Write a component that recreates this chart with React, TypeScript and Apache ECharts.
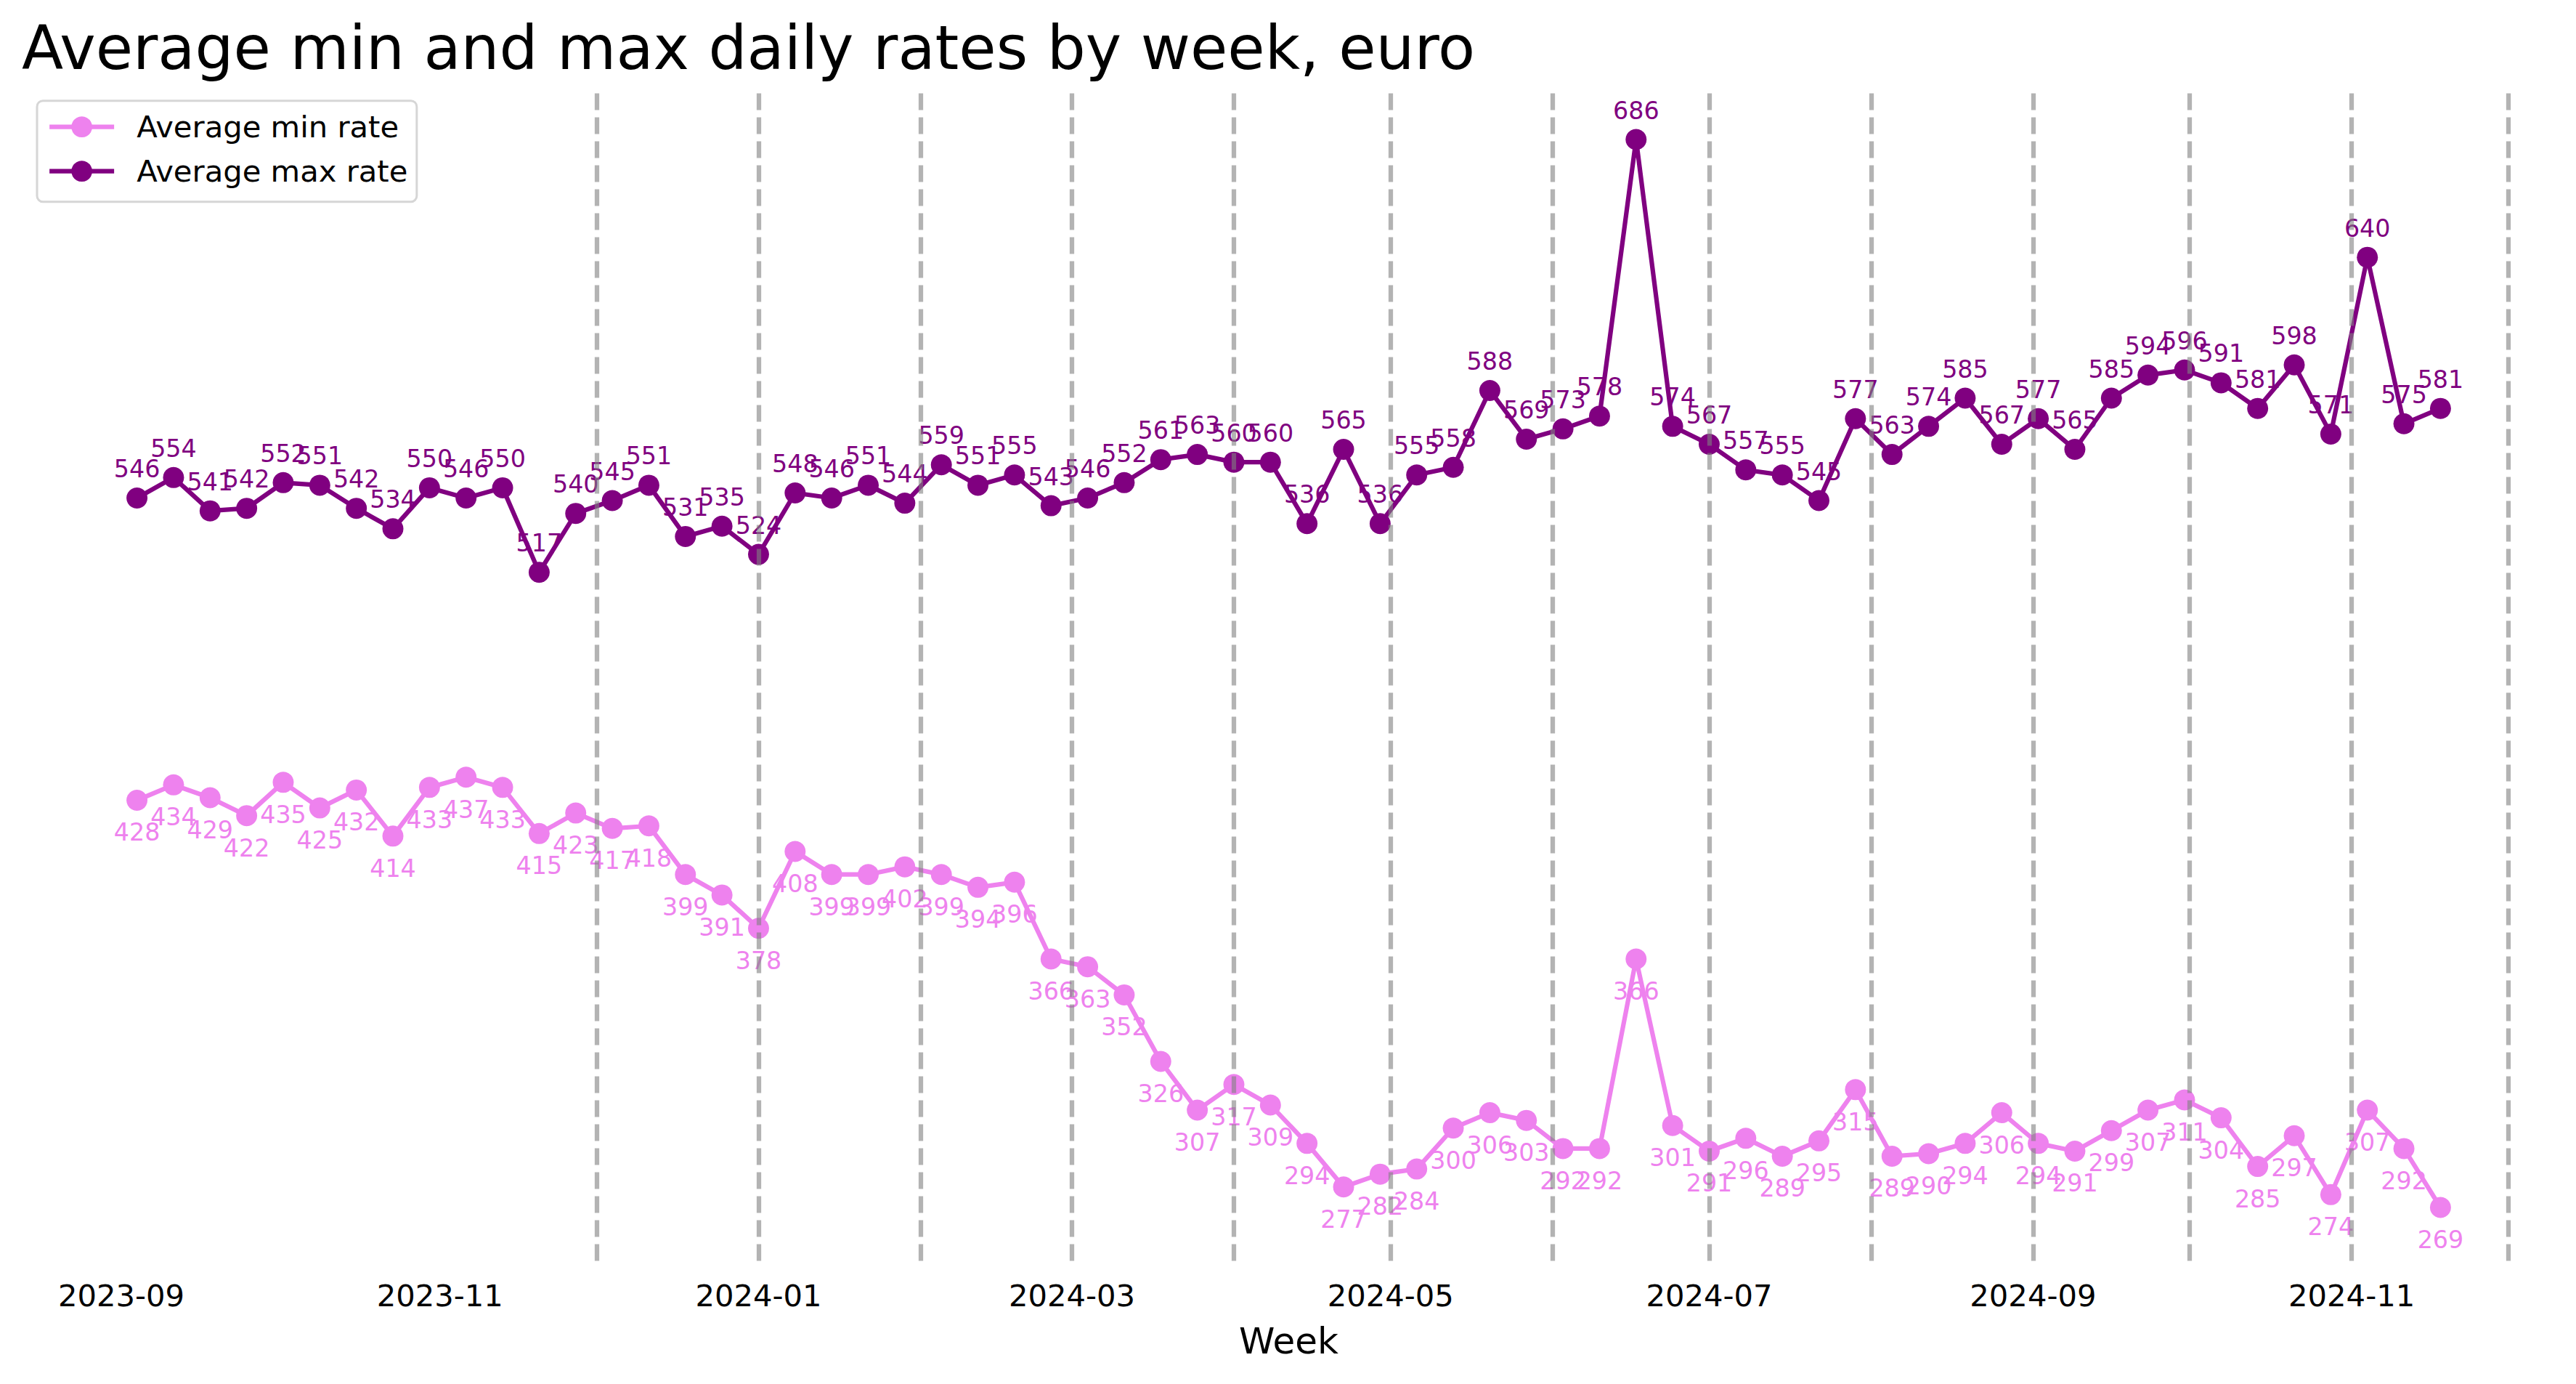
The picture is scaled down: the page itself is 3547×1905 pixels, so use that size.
import React, { useEffect, useRef } from "react";
import * as echarts from "echarts";

const weeks = [
  "2023-09-04", "2023-09-11", "2023-09-18", "2023-09-25", "2023-10-02", "2023-10-09", "2023-10-16", "2023-10-23",
  "2023-10-30", "2023-11-06", "2023-11-13", "2023-11-20", "2023-11-27", "2023-12-04", "2023-12-11", "2023-12-18",
  "2023-12-25", "2024-01-01", "2024-01-08", "2024-01-15", "2024-01-22", "2024-01-29", "2024-02-05", "2024-02-12",
  "2024-02-19", "2024-02-26", "2024-03-04", "2024-03-11", "2024-03-18", "2024-03-25", "2024-04-01", "2024-04-08",
  "2024-04-15", "2024-04-22", "2024-04-29", "2024-05-06", "2024-05-13", "2024-05-20", "2024-05-27", "2024-06-03",
  "2024-06-10", "2024-06-17", "2024-06-24", "2024-07-01", "2024-07-08", "2024-07-15", "2024-07-22", "2024-07-29",
  "2024-08-05", "2024-08-12", "2024-08-19", "2024-08-26", "2024-09-02", "2024-09-09", "2024-09-16", "2024-09-23",
  "2024-09-30", "2024-10-07", "2024-10-14", "2024-10-21", "2024-10-28", "2024-11-04", "2024-11-11", "2024-11-18",
];

const minRates = [
  428, 434, 429, 422, 435, 425, 432, 414, 433, 437, 433, 415, 423, 417, 418, 399,
  391, 378, 408, 399, 399, 402, 399, 394, 396, 366, 363, 352, 326, 307, 317, 309,
  294, 277, 282, 284, 300, 306, 303, 292, 292, 366, 301, 291, 296, 289, 295, 315,
  289, 290, 294, 306, 294, 291, 299, 307, 311, 304, 285, 297, 274, 307, 292, 269,
];

const maxRates = [
  546, 554, 541, 542, 552, 551, 542, 534, 550, 546, 550, 517, 540, 545, 551, 531,
  535, 524, 548, 546, 551, 544, 559, 551, 555, 543, 546, 552, 561, 563, 560, 560,
  536, 565, 536, 555, 558, 588, 569, 573, 578, 686, 574, 567, 557, 555, 545, 577,
  563, 574, 585, 567, 577, 565, 585, 594, 596, 591, 581, 598, 571, 640, 575, 581,
];

const monthLines = [
  "2023-12-01", "2024-01-01", "2024-02-01", "2024-03-01", "2024-04-01", "2024-05-01", "2024-06-01",
  "2024-07-01", "2024-08-01", "2024-09-01", "2024-10-01", "2024-11-01", "2024-12-01",
];

const tickLabels = ["2023-09", "2023-11", "2024-01", "2024-03", "2024-05", "2024-07", "2024-09", "2024-11"];

const seriesNames = ["Average min rate", "Average max rate"];
const titleText = "Average min and max daily rates by week, euro";
const xAxisName = "Week";

const ts = (s: string) => {
  const p = s.split("-").map(Number);
  return Date.UTC(p[0], p[1] - 1, p[2] || 1);
};

const FONT = "DejaVu Sans";
const MIN_COLOR = "#EE82EE";
const MAX_COLOR = "#800080";

export default function App() {
  const ref = useRef<HTMLDivElement>(null);

  useEffect(() => {
    document.body.style.margin = "0";
    document.body.style.overflow = "hidden";
    if (!ref.current) return;
    const chart = echarts.init(ref.current, undefined, { renderer: "svg" });

    const t0 = ts(weeks[0]);
    const t1 = ts(weeks[weeks.length - 1]);
    const pad = (t1 - t0) * 0.05;
    const allVals = minRates.concat(maxRates);
    const vMin = Math.min(...allVals);
    const vMax = Math.max(...allVals);
    const vPad = (vMax - vMin) * 0.05;
    const tickValues = tickLabels.map((t) => ts(t + "-01"));

    const mkLabel = (color: string, dy: number) => ({
      show: true,
      position: "inside",
      offset: [0, dy],
      color,
      fontSize: 33.3,
      fontFamily: FONT,
      formatter: (p: any) => String(p.value[1]),
    });

    const option: any = {
      animation: false,
      textStyle: { fontFamily: FONT },
      title: {
        text: titleText,
        left: 30,
        top: 24,
        padding: 0,
        textStyle: { fontSize: 83.5, fontWeight: "normal", color: "#000", fontFamily: FONT },
      },
      legend: {
        data: seriesNames,
        orient: "vertical",
        left: 51,
        top: 138.7,
        padding: [15, 12.5, 21, 14],
        itemWidth: 89,
        itemHeight: 36,
        itemGap: 19,
        borderColor: "#d6d6d6",
        borderWidth: 3,
        borderRadius: 8,
        backgroundColor: "rgba(255,255,255,0.8)",
        lineStyle: { width: 6.25 },
        textStyle: {
          fontSize: 41.7,
          color: "#000",
          fontFamily: FONT,
          padding: [0, 0, 0, 26],
        },
        selectedMode: false,
      },
      grid: {
        left: 30,
        right: 28,
        top: 118.5,
        bottom: 169.5,
        containLabel: false,
        outerBoundsMode: "none",
      },
      xAxis: {
        type: "value",
        min: t0 - pad,
        max: t1 + pad,
        axisLine: { show: false },
        axisTick: { show: false },
        splitLine: { show: false },
        axisLabel: {
          customValues: tickValues,
          formatter: (v: number) => {
            const i = tickValues.indexOf(v);
            return i >= 0 ? tickLabels[i] : "";
          },
          fontSize: 41.7,
          color: "#000",
          fontFamily: FONT,
          margin: 27,
          hideOverlap: false,
        },
        name: xAxisName,
        nameLocation: "middle",
        nameGap: 110,
        nameTextStyle: { fontSize: 50, color: "#000", fontFamily: FONT, verticalAlign: "middle" },
      },
      yAxis: {
        type: "value",
        min: vMin - vPad,
        max: vMax + vPad,
        show: false,
        splitLine: { show: false },
      },
      series: [
        {
          name: seriesNames[0],
          type: "line",
          data: weeks.map((w, i) => [ts(w), minRates[i]]),
          symbol: "circle",
          symbolSize: 29,
          showAllSymbol: true,
          lineStyle: { color: MIN_COLOR, width: 6.25 },
          itemStyle: { color: MIN_COLOR, borderWidth: 0 },
          label: mkLabel(MIN_COLOR, 44.5),
          emphasis: { disabled: true },
          silent: true,
          z: 2,
        },
        {
          name: seriesNames[1],
          type: "line",
          data: weeks.map((w, i) => [ts(w), maxRates[i]]),
          symbol: "circle",
          symbolSize: 29,
          showAllSymbol: true,
          lineStyle: { color: MAX_COLOR, width: 6.25 },
          itemStyle: { color: MAX_COLOR, borderWidth: 0 },
          label: mkLabel(MAX_COLOR, -40),
          emphasis: { disabled: true },
          silent: true,
          z: 2,
        },
        {
          type: "line",
          data: [],
          silent: true,
          z: 3,
          markLine: {
            silent: true,
            symbol: ["none", "none"],
            label: { show: false },
            emphasis: { disabled: true },
            lineStyle: { type: [23, 10], color: "rgba(128,128,128,0.6)", width: 6.25 },
            data: monthLines.map((m) => ({ xAxis: ts(m) })),
          },
        },
      ],
    };

    chart.setOption(option);
    return () => chart.dispose();
  }, []);

  return <div ref={ref} style={{ width: 3547, height: 1905 }} />;
}
